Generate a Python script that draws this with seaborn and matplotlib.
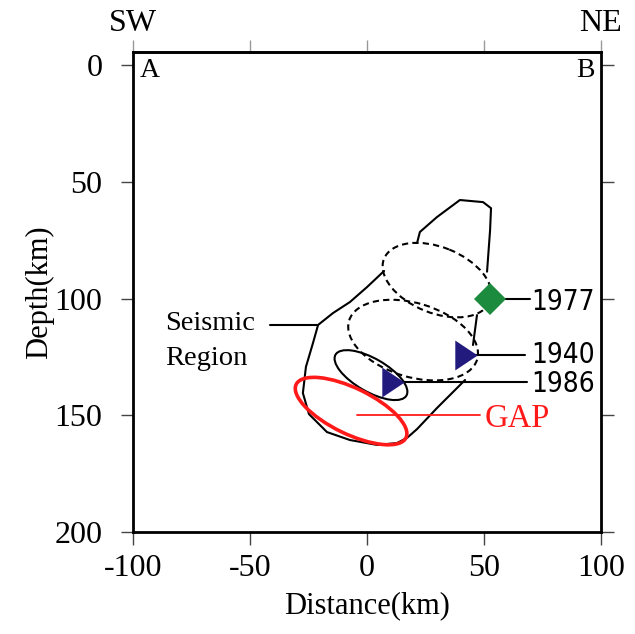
import matplotlib
matplotlib.use("Agg")
import matplotlib.pyplot as plt
from matplotlib.patches import Ellipse
from matplotlib import font_manager
import seaborn as sns

# ---------------- data ----------------
x_ticks = [-100, -50, 0, 50, 100]
y_ticks = [0, 50, 100, 150, 200]
top_labels = ["SW", "", "", "", "NE"]

# seismic region outline (distance km, depth km), drawn in visible pieces
lobe_x = [21.4, 22.6, 29.9, 39.7, 49.6, 53.0, 52.6, 51.3]
lobe_y = [76.2, 71.5, 65.1, 57.8, 58.7, 61.3, 70.7, 88.5]
link_x = [47.0, 45.3]
link_y = [107.1, 119.9]
body_x = [41.9, 29.9, 21.4, 17.1, 12.8, 4.3, -7.3, -17.1, -24.8, -27.4, -26.1,
          -23.1, -20.9, -14.5, -7.3, 0.0, 7.3]
body_y = [134.9, 146.9, 155.9, 159.7, 161.9, 162.7, 160.6, 157.2, 149.5, 140.5,
          129.3, 119.1, 111.3, 106.2, 101.5, 95.1, 88.2]

# ellipses: rupture zones (dashed), 1986 zone (solid), GAP (red)
ell_cx = [29.9, 19.7, 1.7, -6.8]
ell_cy = [92.1, 117.8, 132.8, 148.2]
ell_a = [24.4, 28.6, 17.5, 26.1]
ell_b = [14.1, 15.8, 7.1, 9.8]
ell_ang = [22, 17, 30, 26]

# hypocentres
eq_years = ["1977", "1940", "1986"]
eq_x = [52.6, 42.5, 10.9]
eq_y = [100.2, 124.0, 135.8]
label_line_end = [69.5, 67.5, 68.4]
label_baseline = [104.9, 127.8, 139.9]
label_x = 70.1

gap_line_x = [-4.3, 48.3]
gap_line_y = [149.9, 149.9]
seis_line_x = [-41.5, -21.4]
seis_line_y = [111.3, 111.3]

# ---------------- style ----------------
sns.set_style("ticks")
plt.rcParams["font.family"] = ["Liberation Serif", "DejaVu Serif"]
plt.rcParams["axes.unicode_minus"] = False
plt.rcParams["text.color"] = "black"
plt.rcParams["axes.labelcolor"] = "black"
plt.rcParams["xtick.labelcolor"] = "black"
plt.rcParams["ytick.labelcolor"] = "black"

fig = plt.figure(figsize=(6.35, 6.34), dpi=100)
ax = fig.add_axes([133 / 635, 1 - 532 / 634, 468 / 635, 480 / 634])

lw = 1.5
for xs, ys in [(lobe_x, lobe_y), (link_x, link_y), (body_x, body_y)]:
    sns.lineplot(x=xs, y=ys, sort=False, estimator=None, color="black",
                 linewidth=lw, ax=ax)

styles = [
    dict(edgecolor="black", linestyle=(0, (3, 2)), linewidth=lw),
    dict(edgecolor="black", linestyle=(0, (3, 2)), linewidth=lw),
    dict(edgecolor="black", linestyle="-", linewidth=lw),
    dict(edgecolor="#ff1a1a", linestyle="-", linewidth=2.6),
]
for cx, cy, a, b, ang, st in zip(ell_cx, ell_cy, ell_a, ell_b, ell_ang, styles):
    ax.add_patch(Ellipse((cx, cy), 2 * a, 2 * b, angle=ang, facecolor="none",
                         zorder=3, **st))

# label leader lines
for x0, x1, y in zip(eq_x, label_line_end, eq_y):
    sns.lineplot(x=[x0, x1], y=[y, y], sort=False, estimator=None,
                 color="black", linewidth=lw, ax=ax)
sns.lineplot(x=gap_line_x, y=gap_line_y, sort=False, estimator=None,
             color="#ff1a1a", linewidth=1.3, ax=ax)
sns.lineplot(x=seis_line_x, y=seis_line_y, sort=False, estimator=None,
             color="black", linewidth=lw, ax=ax)

# markers
tri = [(-0.75, 1), (0.75, 0), (-0.75, -1)]
ax.plot(eq_x[0], eq_y[0], marker="D", markersize=15.8, color="#1d8b3d",
        markeredgewidth=0, linestyle="none", zorder=5)
ax.plot(eq_x[1:], eq_y[1:], marker=tri, markersize=21.5, color="#221a7c",
        markeredgewidth=0, linestyle="none", zorder=5)

# texts
year_fp = font_manager.FontProperties(family="DejaVu Sans", stretch="condensed",
                                      size=20)
for yr, yb in zip(eq_years, label_baseline):
    ax.text(label_x, yb, yr, ha="left", va="baseline", fontproperties=year_fp)
ax.text(50.4, 154.9, "GAP", color="#ff1a1a", fontsize=23.5, ha="left",
        va="baseline")
ax.text(-86.3, 113.5, "Seismic", fontsize=20.5, ha="left", va="baseline")
ax.text(-86.3, 128.5, "Region", fontsize=20.5, ha="left", va="baseline")
ax.text(-97, 5.1, "A", fontsize=20, ha="left", va="baseline")
ax.text(97.4, 5.1, "B", fontsize=20, ha="right", va="baseline")

# axes
ax.set_xlim(-100, 100)
ax.set_ylim(200, -5.6)
ax.set_xticks(x_ticks)
ax.set_xticklabels([str(v) for v in x_ticks])
ax.set_yticks(y_ticks)
ax.set_yticklabels([str(v) for v in y_ticks])
ax.set_xlabel("Distance(km)", fontsize=22, labelpad=6)
ax.set_ylabel("Depth(km)", fontsize=22, labelpad=0)
for s in ax.spines.values():
    s.set_linewidth(2.0)
    s.set_color("black")
    s.set_visible(True)
ax.tick_params(axis="x", direction="out", length=9, width=1.0, color="#444444",
               labelsize=23, pad=7)
ax.tick_params(axis="y", direction="out", length=9, width=1.0, color="#444444",
               labelsize=23, pad=13, right=True, labelright=False)

sec = ax.secondary_xaxis("top")
sec.set_xticks(x_ticks)
sec.set_xticklabels(top_labels)
sec.tick_params(direction="out", length=9, width=1.0, color="#999999",
                labelsize=23, pad=1)
sec.spines["top"].set_linewidth(2.0)

fig.savefig("out.png", dpi=100)
